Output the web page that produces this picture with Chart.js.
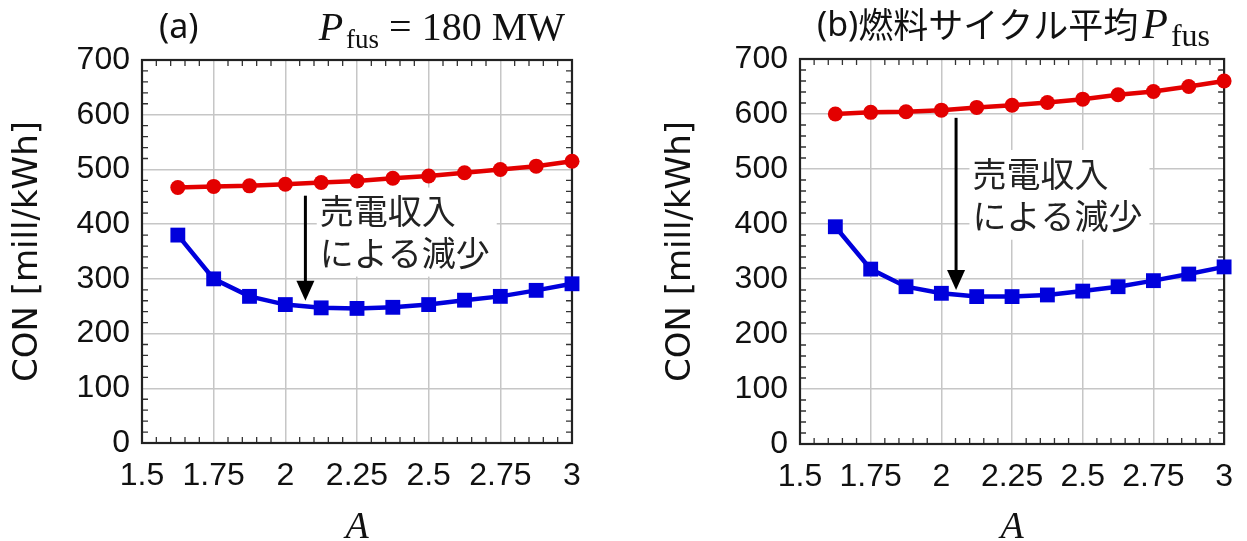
<!DOCTYPE html>
<html>
<head>
<meta charset="utf-8">
<script src="https://cdn.jsdelivr.net/npm/chart.js@4.4.0/dist/chart.umd.min.js"></script>
<style>
  html, body { margin: 0; padding: 0; background: #fff; }
  #wrap { position: relative; width: 1247px; height: 541px; overflow: hidden; }
  .panel { position: absolute; top: 0; width: 623px; height: 541px; }
  #panelA { left: 0; }
  #panelB { left: 624px; }
</style>
</head>
<body>
<div id="wrap">
  <div class="panel" id="panelA"><canvas id="chartA" width="623" height="541"></canvas></div>
  <div class="panel" id="panelB"><canvas id="chartB" width="623" height="541"></canvas></div>
</div>
<script>
// aspect ratio A (x values, shared by both panels)
const aspectRatios = [1.625, 1.75, 1.875, 2.0, 2.125, 2.25, 2.375, 2.5, 2.625, 2.75, 2.875, 3.0];

// (a) Pfus = 180 MW
const conNoRevenueA   = [467, 469, 470, 473, 476, 479, 484, 488, 494, 500, 506, 515];
const conWithRevenueA = [380, 300, 268, 253, 247, 246, 248, 253, 261, 268, 279, 291];

// (b) fuel-cycle averaged Pfus
const conNoRevenueB   = [600, 603, 604, 607, 612, 616, 621, 627, 635, 641, 650, 660];
const conWithRevenueB = [395, 318, 286, 274, 268, 268, 271, 278, 286, 297, 309, 322];

const xTickLabels = ['1.5', '1.75', '2', '2.25', '2.5', '2.75', '3'];
const yTickLabels = ['0', '100', '200', '300', '400', '500', '600', '700'];

const noteLines = ['売電収入', 'による減少'];

const RED = '#e30000';
const BLUE = '#0000dc';
const GRID = '#c6c6c6';
const INK = '#111';
const SANS = '"Liberation Sans", Arial, sans-serif';
const SERIF = '"Liberation Serif", "DejaVu Serif", serif';
const CJK = '"Noto Sans CJK JP", sans-serif';

// frame on all four sides + small inward minor ticks
const frameTicks = {
  id: 'frameTicks',
  beforeDatasetsDraw(chart) {
    const { ctx, chartArea: a, scales: { x, y } } = chart;
    ctx.save();
    ctx.strokeStyle = '#333';
    ctx.lineWidth = 1.3;
    ctx.beginPath();
    for (let i = 1; i < 30; i++) {
      if (i % 5 === 0) continue;
      const px = x.getPixelForValue(1.5 + i * 0.05);
      ctx.moveTo(px, a.bottom); ctx.lineTo(px, a.bottom - 6);
      ctx.moveTo(px, a.top); ctx.lineTo(px, a.top + 6);
    }
    for (let i = 1; i < 35; i++) {
      if (i % 5 === 0) continue;
      const py = y.getPixelForValue(i * 20);
      ctx.moveTo(a.left, py); ctx.lineTo(a.left + 6, py);
      ctx.moveTo(a.right, py); ctx.lineTo(a.right - 6, py);
    }
    ctx.stroke();
    ctx.strokeStyle = '#222';
    ctx.lineWidth = 2.2;
    ctx.strokeRect(a.left, a.top, a.right - a.left, a.bottom - a.top);
    ctx.restore();
  }
};

// white-backed note with a downward arrow, placed in data units
const revenueNote = {
  id: 'revenueNote',
  beforeDatasetsDraw(chart, args, opts) {
    const { ctx, scales: { x, y } } = chart;
    ctx.save();
    ctx.font = '34px ' + CJK;
    const tx = x.getPixelForValue(opts.textX);
    const ys = opts.lineY.map(v => y.getPixelForValue(v));
    const w = Math.max(...noteLines.map(s => ctx.measureText(s).width));
    ctx.fillStyle = '#fff';
    ctx.fillRect(tx - 3, ys[0] - 24, w + 10, ys[1] - ys[0] + 48);
    ctx.fillStyle = '#222';
    ctx.textBaseline = 'middle';
    noteLines.forEach((s, i) => ctx.fillText(s, tx, ys[i]));

    const ax = x.getPixelForValue(opts.arrowX);
    const y0 = y.getPixelForValue(opts.arrowFrom);
    const y1 = y.getPixelForValue(opts.arrowTo);
    ctx.strokeStyle = '#000';
    ctx.lineWidth = 3;
    ctx.beginPath();
    ctx.moveTo(ax, y0); ctx.lineTo(ax, y1 - 18);
    ctx.stroke();
    ctx.fillStyle = '#000';
    ctx.beginPath();
    ctx.moveTo(ax - 9, y1 - 20); ctx.lineTo(ax + 9, y1 - 20); ctx.lineTo(ax, y1);
    ctx.closePath();
    ctx.fill();
    ctx.restore();
  }
};

// panel heading: label + (optional Japanese) + P_fus (+ suffix)
const panelHeading = {
  id: 'panelHeading',
  afterDraw(chart, args, opts) {
    const { ctx, chartArea: a } = chart;
    ctx.save();
    ctx.fillStyle = INK;
    ctx.textBaseline = 'alphabetic';
    const base = opts.baseline;
    const head = [{ t: opts.label, f: '34px "Noto Sans", sans-serif', dy: -2 }];
    if (opts.jp) head.push({ t: opts.jp, f: '35px ' + CJK, dy: 0 });
    const tail = [
      { t: 'P', f: 'italic ' + opts.pSize + 'px ' + SERIF, dy: 0, kern: 3 },
      { t: 'fus', f: opts.subSize + 'px ' + SERIF, dy: 8, kern: 0 }
    ];
    if (opts.suffix) tail.push({ t: opts.suffix, f: opts.pSize + 'px ' + SERIF, dy: 0, kern: 0 });

    let cx = a.left + opts.labelOffset;
    head.forEach(p => {
      ctx.font = p.f;
      ctx.fillText(p.t, cx, base + p.dy);
      cx += ctx.measureText(p.t).width;
    });
    if (opts.tailRight !== undefined) {
      let total = 0;
      tail.forEach(p => { ctx.font = p.f; total += ctx.measureText(p.t).width + p.kern; });
      cx = a.right - opts.tailRight - total;
    } else {
      cx += 4;
    }
    tail.forEach(p => {
      ctx.font = p.f;
      ctx.fillText(p.t, cx, base + p.dy);
      cx += ctx.measureText(p.t).width + p.kern;
    });
    ctx.restore();
  }
};

function buildChart(canvasId, redValues, blueValues, frame, note, heading) {
  return new Chart(document.getElementById(canvasId), {
    type: 'line',
    data: {
      datasets: [
        {
          label: 'without revenue',
          data: aspectRatios.map((a, i) => ({ x: a, y: redValues[i] })),
          borderColor: RED,
          backgroundColor: RED,
          borderWidth: 4.5,
          pointStyle: 'circle',
          pointRadius: 7.5,
          pointBorderWidth: 0,
          clip: false
        },
        {
          label: 'with revenue',
          data: aspectRatios.map((a, i) => ({ x: a, y: blueValues[i] })),
          borderColor: BLUE,
          backgroundColor: BLUE,
          borderWidth: 4.5,
          pointStyle: 'rect',
          pointRadius: 10.5,
          pointBorderWidth: 0,
          clip: false
        }
      ]
    },
    options: {
      responsive: false,
      animation: false,
      events: [],
      layout: { padding: { left: frame.padLeft, right: frame.padRight, top: frame.top, bottom: 0 } },
      plugins: {
        legend: { display: false },
        tooltip: { enabled: false },
        revenueNote: note,
        panelHeading: heading
      },
      scales: {
        x: {
          type: 'linear',
          min: 1.5,
          max: 3,
          afterFit(scale) { scale.height = 541 - frame.bottom; },
          ticks: {
            stepSize: 0.25,
            padding: 14,
            color: INK,
            font: { family: SANS, size: 32 },
            callback: (v, i) => xTickLabels[i]
          },
          grid: { color: GRID, lineWidth: 1.5, drawTicks: false },
          border: { display: false },
          title: {
            display: true,
            text: 'A',
            color: INK,
            padding: 0,
            font: { family: SERIF, size: 38, style: 'italic', lineHeight: 0.7 }
          }
        },
        y: {
          min: 0,
          max: 700,
          afterFit(scale) { scale.width = frame.left - frame.padLeft; },
          ticks: {
            stepSize: 100,
            padding: 12,
            color: INK,
            font: { family: SANS, size: 32 },
            callback: (v, i) => yTickLabels[i]
          },
          grid: { color: GRID, lineWidth: 1.5, drawTicks: false },
          border: { display: false },
          title: {
            display: true,
            text: 'CON [mill/kWh]',
            color: INK,
            padding: 8,
            font: { family: '"DejaVu Sans", sans-serif', size: 34, lineHeight: 1.2 }
          }
        }
      }
    },
    plugins: [frameTicks, revenueNote, panelHeading]
  });
}

buildChart('chartA', conNoRevenueA, conWithRevenueA,
  { left: 142, padLeft: 0, padRight: 51, top: 60, bottom: 443 },
  { textX: 2.12, lineY: [423, 348], arrowX: 2.07, arrowFrom: 452, arrowTo: 260 },
  { label: '(a)', labelOffset: 17, baseline: 40, pSize: 40, subSize: 27, suffix: ' = 180 MW', tailRight: 7 });

buildChart('chartB', conNoRevenueB, conWithRevenueB,
  { left: 176, padLeft: 29, padRight: 18, top: 59, bottom: 444 },
  { textX: 2.11, lineY: [491, 415], arrowX: 2.052, arrowFrom: 593, arrowTo: 280 },
  { label: '(b)', labelOffset: 17, baseline: 38, pSize: 42, subSize: 32, jp: '燃料サイクル平均' });
</script>
</body>
</html>
